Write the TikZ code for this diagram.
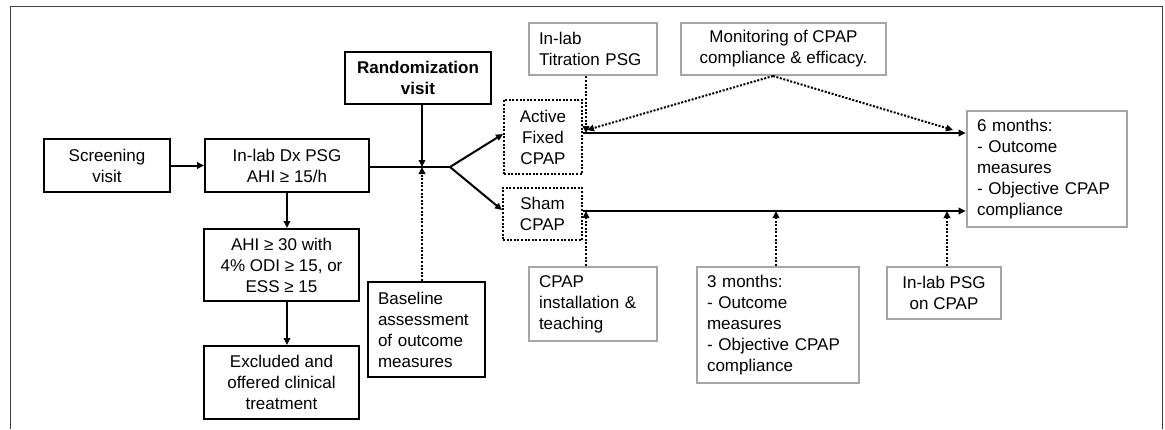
\documentclass[tikz,border=0pt]{standalone}
\usepackage{fontspec}
\setmainfont{Liberation Sans}
\usetikzlibrary{arrows.meta,calc}
\begin{document}
\begin{tikzpicture}[x=1pt,y=-1pt,
  txt/.style={inner sep=0pt, font=\fontsize{17}{21}\selectfont},
  blk/.style={txt, draw=black, line width=2pt, align=center},
  gry/.style={txt, draw=black!35, line width=2.6pt},
  gryl/.style={gry, align=left},
  dots/.style={dash pattern=on 2pt off 1.6pt},
  dbox/.style={txt, draw=black, dots, line width=2pt, align=center},
  conn/.style={line width=2pt, -{Triangle[length=7pt,width=6.5pt]}},
  dconn/.style={line width=2pt, dots, -{Triangle[length=7pt,width=6.5pt]}},
  line/.style={line width=2pt}]
\useasboundingbox (0,0) rectangle (1165,429);
\draw[black!75, line width=1pt] (10,429) -- (10,6) -- (1162,6) -- (1162,429);

\node[blk, minimum width=126pt, minimum height=53pt] (scr) at (107,165.5) {Screening\\visit};
\node[blk, minimum width=164pt, minimum height=53pt] (dx) at (287,165.5) {In-lab Dx PSG\\AHI ≥ 15/h};
\node[blk, minimum width=155pt, minimum height=72pt] (ahi) at (281.5,265) {AHI ≥ 30 with\\4\% ODI ≥ 15, or\\ESS ≥ 15};
\node[blk, minimum width=155pt, minimum height=73pt] (exc) at (281.5,382.5) {Excluded and\\offered clinical\\treatment};
\node[blk, minimum width=146pt, minimum height=52pt, font=\fontsize{17}{21}\selectfont\bfseries] (rand) at (418,78) {Randomization\\visit};
\node[blk, align=left, text width=97pt, minimum width=117pt, minimum height=95pt] (base) at (426.5,329.5) {Baseline\\assessment\\of outcome\\measures};
\node[dbox, minimum width=78pt, minimum height=74pt] (act) at (543,137) {Active\\Fixed\\CPAP};
\node[dbox, minimum width=79pt, minimum height=52pt] (sham) at (542.5,214) {Sham\\CPAP};
\node[gryl, text width=108pt, minimum width=128pt, minimum height=52pt] (tit) at (593,49) {In-lab\\Titration PSG};
\node[gry, align=center, minimum width=205pt, minimum height=52pt] (mon) at (783.5,49) {Monitoring of CPAP\\compliance \& efficacy.};
\node[gryl, text width=140pt, minimum width=160pt, minimum height=116pt] (six) at (1047,169) {6 months:\\- Outcome\\measures\\- Objective CPAP\\compliance};
\node[gryl, text width=108pt, minimum width=128pt, minimum height=74pt] (inst) at (593,304) {CPAP\\installation \&\\teaching};
\node[gryl, text width=142pt, minimum width=162pt, minimum height=116pt] (three) at (778,325) {3 months:\\- Outcome\\measures\\- Objective CPAP\\compliance};
\node[gry, align=center, minimum width=114pt, minimum height=52pt] (psg) at (944,293) {In-lab PSG\\on CPAP};

% helper coordinates
\coordinate (j1) at (422,167);
\coordinate (br) at (450,167);
\coordinate (ay) at (0,133);
\coordinate (sy) at (0,211);
\coordinate (mp) at (773,76);
\coordinate (ta) at (587,130);
\coordinate (tb) at (953,130);

\draw[conn] (scr) -- (dx);
\draw[conn] (dx) -- (ahi.north -| dx);
\draw[conn] (ahi.south -| dx) -- (exc.north -| dx);
\draw[line] (dx.east |- j1) -- (br);
\draw[conn] (rand.south -| j1) -- (j1);
\draw[dconn] (base.north -| j1) -- (j1);
\draw[conn] (br) -- (act.west |- 0,134);
\draw[conn] (br) -- (sham.west |- 0,210);

\draw[conn] (act.east |- ay) -- (six.west |- ay);
\draw[conn] (sham.east |- sy) -- (six.west |- sy);

\draw[dconn] (tit.south -| 586,0) -- (586,133);
\draw[dconn] (mp) -- (ta);
\draw[dconn] (mp) -- (tb);
\draw[dconn] (inst.north -| 586,0) -- (586,211);
\draw[dconn] (three.north -| 776,0) -- (776,211);
\draw[dconn] (psg.north -| 947,0) -- (947,211);
\end{tikzpicture}
\end{document}
